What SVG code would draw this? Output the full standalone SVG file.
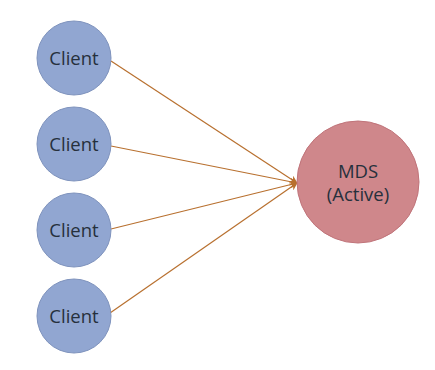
<svg xmlns="http://www.w3.org/2000/svg" width="435" height="370" viewBox="0 0 435 370">
<defs>
<style>
.client circle{fill:#91a6d1;stroke:#7f93bd;stroke-width:1}
.mds circle{fill:#cf878b;stroke:#c0747a;stroke-width:1}
text{font-family:"Open Sans","Liberation Sans",sans-serif;font-size:18.5px;fill:#26303c;text-anchor:middle}
.edge{stroke:#b8702f;stroke-width:1.2;fill:none;marker-end:url(#arr)}
</style>
<marker id="arr" viewBox="0 0 10 10" refX="9" refY="5" markerWidth="8" markerHeight="8" orient="auto" markerUnits="userSpaceOnUse">
<path d="M0,0 L10,5 L0,10 L3,5 Z" fill="#b8702f"/>
</marker>
</defs>
<rect width="435" height="370" fill="#ffffff"/>
<g id="connectors">
<line class="edge" x1="111" y1="61" x2="297" y2="183"/>
<line class="edge" x1="111" y1="146" x2="297" y2="183"/>
<line class="edge" x1="111" y1="229" x2="297" y2="183"/>
<line class="edge" x1="110" y1="313" x2="297" y2="183"/>
</g>
<g id="client1" class="client"><circle cx="74" cy="58" r="37"/><text x="74" y="65">Client</text></g>
<g id="client2" class="client"><circle cx="74" cy="144" r="37"/><text x="74" y="151">Client</text></g>
<g id="client3" class="client"><circle cx="74" cy="230" r="37"/><text x="74" y="237">Client</text></g>
<g id="client4" class="client"><circle cx="74" cy="316" r="37"/><text x="74" y="323">Client</text></g>
<g id="mds" class="mds"><circle cx="358" cy="182" r="61"/><text x="358" y="178">MDS</text><text x="358" y="201">(Active)</text></g>
</svg>
